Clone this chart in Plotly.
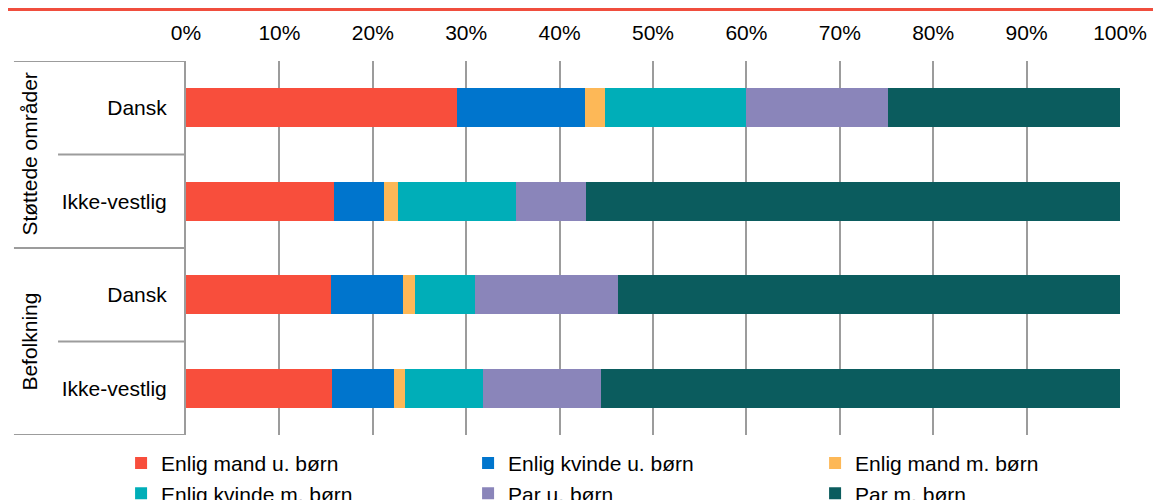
import plotly.graph_objects as go

# ---- data ----
row_labels = ["Dansk", "Ikke-vestlig", "Dansk", "Ikke-vestlig"]
group_labels = ["Støttede områder", "Befolkning"]
series_names = ["Enlig mand u. børn", "Enlig kvinde u. børn", "Enlig mand m. børn",
                "Enlig kvinde m. børn", "Par u. børn", "Par m. børn"]
enlig_mand_u_born = [29.0, 15.8, 15.5, 15.6]
enlig_kvinde_u_born = [13.7, 5.4, 7.7, 6.7]
enlig_mand_m_born = [2.2, 1.5, 1.3, 1.1]
enlig_kvinde_m_born = [15.1, 12.6, 6.4, 8.4]
par_u_born = [15.2, 7.5, 15.4, 12.6]
par_m_born = [24.8, 57.2, 53.7, 55.6]
series_values = [enlig_mand_u_born, enlig_kvinde_u_born, enlig_mand_m_born,
                 enlig_kvinde_m_born, par_u_born, par_m_born]
colors = ["#F84E3C", "#0075CD", "#FDB857", "#00AEB8", "#8A85BA", "#0B5C5E"]
x_ticks = list(range(0, 101, 10))

FONT = "Liberation Sans, Arial, sans-serif"
FS = 21
n = len(row_labels)
ypos = [n - 1 - i for i in range(n)]  # top row first

fig = go.Figure()
for name, vals, col in zip(series_names, series_values, colors):
    fig.add_trace(go.Bar(
        y=ypos, x=vals, name=name, orientation="h", marker_color=col,
        marker_line_width=0, width=0.415,
    ))

grid = "#9c9c9c"
shapes = []
# separators in the left label area
for yb, x0 in [(n - 0.5, -0.1842), (n - 1.5, -0.137), (n - 2.5, -0.1842),
               (n - 3.5, -0.137), (n - 4.5, -0.1842)]:
    shapes.append(dict(type="line", xref="paper", yref="y", x0=x0, x1=0,
                       y0=yb, y1=yb, line=dict(color=grid, width=2)))
# red top rule
shapes.append(dict(type="line", xref="paper", yref="paper", x0=-0.1938, x1=1.06,
                   y0=1.1379, y1=1.1379, line=dict(color="#F04E3E", width=3.3)))

annotations = []
for gi, g in enumerate(group_labels):
    yc = n - 1 - (2 * gi + 0.5)
    annotations.append(dict(text=g, xref="paper", yref="y", x=-0.168, y=yc,
                            xanchor="center", yanchor="middle",
                            textangle=-90, showarrow=False,
                            font=dict(size=FS, color="#000", family=FONT)))

fig.update_layout(
    barmode="stack",
    width=1153, height=492,
    margin=dict(l=178, r=41, t=53, b=65, autoexpand=False),
    paper_bgcolor="white", plot_bgcolor="white",
    font=dict(family=FONT, size=FS, color="#000"),
    shapes=shapes, annotations=annotations,
    bargap=0,
    legend=dict(orientation="h", x=-0.0588, xanchor="left", y=-0.021, yanchor="top",
                font=dict(size=FS, family=FONT), entrywidth=312, entrywidthmode="pixels",
                indentation=-10,
                traceorder="normal", itemclick=False, tracegroupgap=0,
                bgcolor="rgba(0,0,0,0)"),
)
fig.update_xaxes(side="top", range=[0, 100], tickvals=x_ticks,
                 ticktext=[f"{v}%" for v in x_ticks], showgrid=True,
                 gridcolor=grid, gridwidth=2, zeroline=False, showline=False,
                 ticks="", ticklabelstandoff=16, automargin=False,
                 tickfont=dict(size=FS, family=FONT))
fig.update_yaxes(range=[-0.5, n - 0.5], tickvals=ypos, ticktext=row_labels,
                 showgrid=False, zeroline=False, showline=True, linecolor=grid,
                 linewidth=2, ticks="", ticklabelstandoff=13, automargin=False,
                 tickfont=dict(size=FS, family=FONT))

fig.write_html("out.html")
